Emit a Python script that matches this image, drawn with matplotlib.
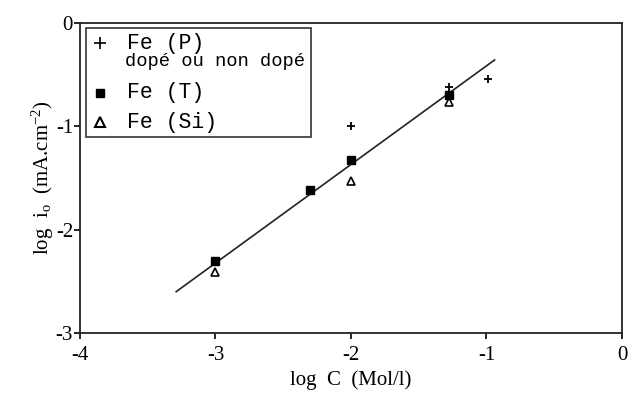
"""
log i0 versus log C for the three iron samples, with the fitted straight line.
"""

import matplotlib
matplotlib.use("Agg")
import matplotlib.pyplot as plt
from matplotlib.lines import Line2D

plt.rcParams["font.family"] = "Liberation Serif"
plt.rcParams["mathtext.fontset"] = "custom"
plt.rcParams["mathtext.rm"] = "Liberation Serif"
plt.rcParams["mathtext.it"] = "Liberation Serif"
plt.rcParams["axes.unicode_minus"] = False

# Fe (P), doped or not
fe_p_x = [-2.0, -1.28, -0.99]
fe_p_y = [-1.00, -0.62, -0.54]

# Fe (T)
fe_t_x = [-3.0, -2.3, -2.0, -1.28]
fe_t_y = [-2.30, -1.62, -1.33, -0.70]

# Fe (Si)
fe_si_x = [-3.0, -2.0, -1.28]
fe_si_y = [-2.41, -1.53, -0.77]

# fitted line
fit_x = [-3.29, -0.94]
fit_y = [-2.60, -0.36]

x_ticks = [-4, -3, -2, -1, 0]
y_ticks = [-3, -2, -1, 0]


def main() -> None:
    fig = plt.figure(figsize=(6.28, 3.96), dpi=100)
    ax = fig.add_axes([0.1274, 0.159, 0.863, 0.7837])

    ax.plot(fit_x, fit_y, color="#222222", linewidth=1.2, zorder=2)
    ax.plot(fe_p_x, fe_p_y, linestyle="none", marker="+", ms=6, mew=1.3,
            color="black", zorder=3)
    ax.plot(fe_t_x, fe_t_y, linestyle="none", marker="s", ms=5.5,
            color="black", zorder=3)
    ax.plot(fe_si_x, fe_si_y, linestyle="none", marker="^", ms=5.5, mew=1.2,
            mfc="white", mec="black", zorder=4)

    ax.set_xlim(-4, 0)
    ax.set_ylim(-3, 0)
    ax.set_xticks(x_ticks)
    ax.set_yticks(y_ticks)
    ax.tick_params(direction="out", length=4, width=1.2, labelsize=15,
                   colors="black")
    ax.tick_params(axis="x", pad=5)
    ax.tick_params(axis="y", pad=1)
    for s in ax.spines.values():
        s.set_linewidth(1.3)
        s.set_color("#222222")

    ax.set_xlabel("log  C  (Mol/l)", fontsize=15, labelpad=4)
    ax.set_ylabel(r"log  i$_{\mathrm{o}}$  (mA.cm$^{\mathrm{-2}}$)",
                  fontsize=15, labelpad=0)

    handles = [
        Line2D([], [], linestyle="none", marker="+", ms=8, mew=1.2, color="black"),
        Line2D([], [], linestyle="none", marker="none"),
        Line2D([], [], linestyle="none", marker="s", ms=6, color="black"),
        Line2D([], [], linestyle="none", marker="^", ms=7, mew=1.5,
               mfc="white", mec="black"),
    ]
    labels = ["Fe (P)", " ", "Fe (T)", "Fe (Si)"]
    leg = ax.legend(handles, labels, loc="upper left", mode="expand",
                    bbox_to_anchor=(0.011, 0.6, 0.415, 0.383), borderaxespad=0,
                    fancybox=False, edgecolor="#333333", framealpha=1,
                    prop={"family": "Liberation Mono", "size": 15.5},
                    handlelength=0.9, handleheight=0.1, handletextpad=0.8,
                    labelspacing=0.4, borderpad=0.22)
    leg.get_frame().set_linewidth(1.2)
    # the spacer row only opens room for the sub-caption
    leg.get_texts()[1].set_fontsize(1)
    ax.annotate("dopé ou non dopé", xy=(0, 0), xycoords=leg.get_texts()[0],
                xytext=(-2, 1), textcoords="offset pixels", ha="left",
                va="top", family="Liberation Mono", fontsize=13.5, zorder=6)

    fig.savefig("out.png", dpi=100)
    plt.close(fig)


if __name__ == "__main__":
    main()
